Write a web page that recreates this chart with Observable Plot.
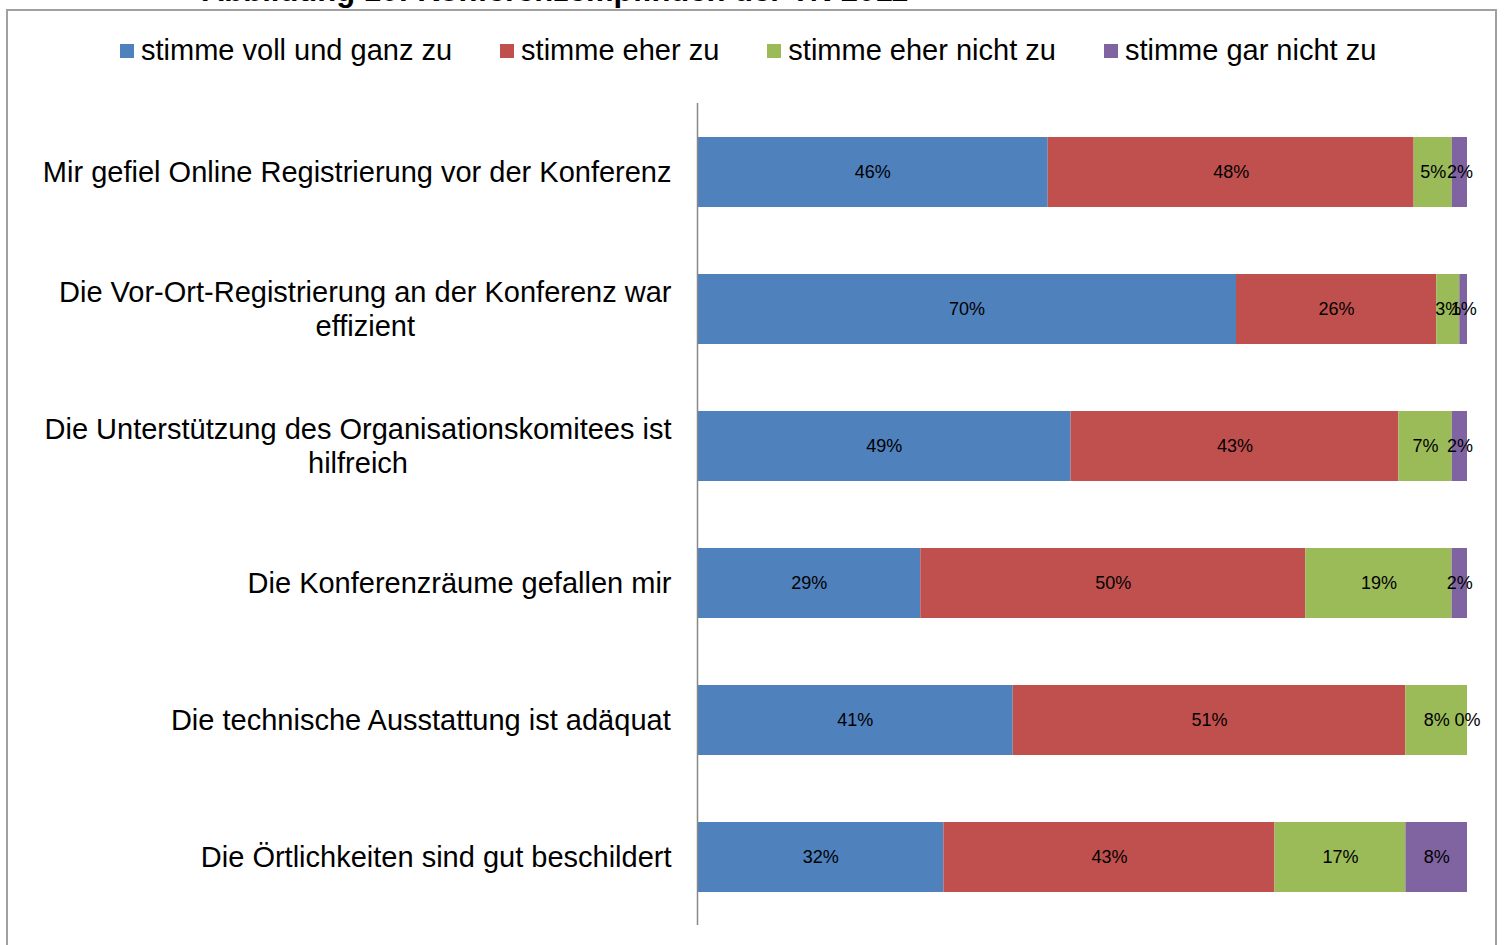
<!DOCTYPE html>
<html>
<head>
<meta charset="utf-8">
<script src="https://cdn.jsdelivr.net/npm/d3@7"></script>
<script src="https://cdn.jsdelivr.net/npm/@observablehq/plot@0.6"></script>
<style>
  html, body { margin: 0; padding: 0; background: #fff; }
  body { width: 1506px; height: 945px; position: relative; overflow: hidden; font-family: "Liberation Sans", Arial, sans-serif; }
  #title { position: absolute; left: 0; width: 1110px; top: -25px; text-align: center; font-weight: bold; font-size: 31px; line-height: 31px; color: #000; white-space: nowrap; }
  #frame { position: absolute; left: 6px; top: 9px; width: 1491px; height: 1000px; border: 2px solid #a0a0a0; box-sizing: border-box; }
  #legend { position: absolute; left: 120px; top: 36px; display: flex; align-items: center; gap: 48px; font-size: 29px; line-height: 29px; color: #000; white-space: nowrap; }
  #legend .item { display: flex; align-items: center; gap: 7px; }
  #legend .sw { width: 14px; height: 14px; display: inline-block; }
  #chart { position: absolute; left: 0; top: 0; }
</style>
</head>
<body>
<div id="title">Abbildung 10: Konferenzempfinden der TN 2011</div>
<div id="frame"></div>
<div id="legend"></div>
<div id="chart"></div>
<script>
const categories = [
  "Mir gefiel Online Registrierung vor der Konferenz",
  "Die Vor-Ort-Registrierung an der Konferenz war\neffizient",
  "Die Unterstützung des Organisationskomitees ist\nhilfreich",
  "Die Konferenzräume gefallen mir",
  "Die technische Ausstattung ist adäquat",
  "Die Örtlichkeiten sind gut beschildert"
];
const series = ["stimme voll und ganz zu", "stimme eher zu", "stimme eher nicht zu", "stimme gar nicht zu"];
const colors = ["#4F81BD", "#C0504D", "#9BBB59", "#8064A2"];
const vollUndGanz = [46, 70, 49, 29, 41, 32];
const eherZu      = [48, 26, 43, 50, 51, 43];
const eherNicht   = [5, 3, 7, 19, 8, 17];
const garNicht    = [2, 1, 2, 2, 0, 8];

const seriesValues = [vollUndGanz, eherZu, eherNicht, garNicht];
const data = [];
categories.forEach((c, i) => {
  series.forEach((s, j) => {
    data.push({category: c, series: s, value: seriesValues[j][i], label: seriesValues[j][i] + "%"});
  });
});

// legend
const legend = document.getElementById("legend");
series.forEach((s, j) => {
  const it = document.createElement("div");
  it.className = "item";
  it.innerHTML = `<span class="sw" style="background:${colors[j]}"></span><span>${s}</span>`;
  legend.appendChild(it);
});

const FONT = "'Liberation Sans', Arial, sans-serif";
const ctx = document.createElement("canvas").getContext("2d");
ctx.font = "29px " + FONT;
const labelMarks = categories.map(c => {
  const W = d3.max(c.split("\n"), l => ctx.measureText(l).width);
  return Plot.text([c], {
    y: d => d, text: d => d, frameAnchor: "left", dx: -(26 + W / 2), dy: -1,
    textAnchor: "middle", fontSize: 29, lineHeight: 1.17, fill: "#000"
  });
});

const chart = Plot.plot({
  width: 1506,
  height: 945,
  marginLeft: 697,
  marginRight: 39,
  marginTop: 103,
  marginBottom: 20,
  style: {fontFamily: FONT, fontSize: "18px", background: "transparent", overflow: "visible"},
  x: {axis: null, domain: [0, 1]},
  y: {axis: null, domain: categories, paddingInner: 0.49, paddingOuter: 0.245},
  color: {domain: series, range: colors},
  marks: [
    Plot.barX(data, Plot.stackX({x: "value", y: "category", z: "series", fill: "series", offset: "normalize"})),
    Plot.text(data, Plot.stackX({x: "value", y: "category", z: "series", text: "label", offset: "normalize", fontSize: 18, fill: "#000"})),
    Plot.ruleX([0], {stroke: "#888", strokeWidth: 1.5}),
    ...labelMarks
  ]
});
document.getElementById("chart").appendChild(chart);
</script>
</body>
</html>
